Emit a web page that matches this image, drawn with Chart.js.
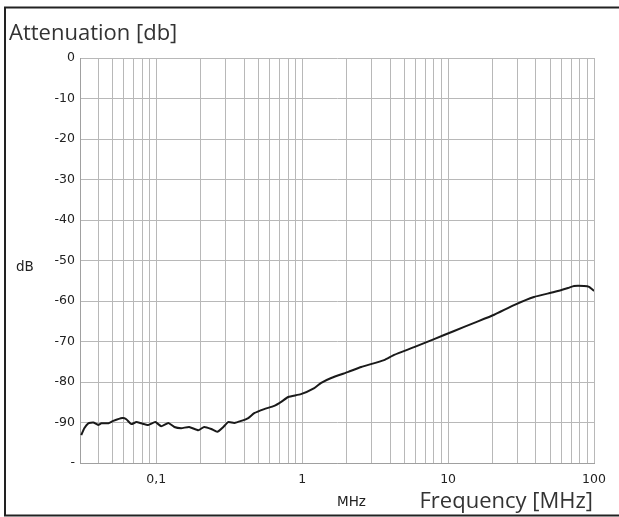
<!DOCTYPE html>
<html>
<head>
<meta charset="utf-8">
<script src="https://cdn.jsdelivr.net/npm/chart.js@4"></script>
<style>
    html, body { margin: 0; padding: 0; background: #fff; }
    #wrap { width: 619px; height: 517px; position: relative; }
</style>
</head>
<body>
<div id="wrap"><canvas id="chart" width="619" height="517"></canvas></div>
<script>
// Attenuation curve
var freqMHz = [0.0306, 0.0321, 0.0342, 0.037, 0.040, 0.042, 0.047, 0.0507, 0.0585, 0.0623,
    0.0674, 0.073, 0.0789, 0.088, 0.0985, 0.108, 0.121, 0.133, 0.148, 0.168,
    0.194, 0.213, 0.238, 0.262, 0.288, 0.311, 0.342, 0.382, 0.427, 0.469,
    0.549, 0.643, 0.718, 0.802, 0.98, 1.21, 1.35, 1.58, 2.07, 2.54,
    3.64, 4.27, 5.85, 8.02, 11.0, 15.1, 20.7, 28.3, 38.8, 53.2,
    66.4, 73.0, 85.4, 92.5, 100];
var attenDb = [-93.1, -91.4, -90.2, -90.0, -90.6, -90.2, -90.2, -89.6, -88.9, -89.2,
    -90.4, -89.9, -90.2, -90.6, -89.9, -90.9, -90.1, -91.1, -91.4, -91.1,
    -91.9, -91.1, -91.6, -92.3, -91.1, -89.9, -90.1, -89.6, -88.9, -87.7,
    -86.7, -85.9, -84.9, -83.7, -83.0, -81.5, -80.2, -79.0, -77.5, -76.3,
    -74.6, -73.3, -71.4, -69.4, -67.4, -65.4, -63.4, -61.0, -59.0, -57.8,
    -56.8, -56.3, -56.3, -56.5, -57.5];

// grid lines: 1..9 in every decade, labels only at decades
var decades = [0.01, 0.1, 1, 10];
var steps = [1, 2, 3, 4, 5, 6, 7, 8, 9, 10];
var xLabels = { '0.1': '0,1', '1': '1', '10': '10', '100': '100' };
var yTicks = [0, -10, -20, -30, -40, -50, -60, -70, -80, -90, -100];

var gridValues = [];
decades.forEach(function (d) {
    steps.forEach(function (s) {
        var v = +(d * s).toPrecision(3);
        if (v >= 0.03 && v <= 100 && gridValues.indexOf(v) < 0) gridValues.push(v);
    });
});

var points = freqMHz.map(function (f, i) { return { x: f, y: attenDb[i] }; });
var tickFont = { family: '"DejaVu Sans", sans-serif', size: 12.5 };

// texts and the frame round the picture
var decorations = {
    id: 'decorations',
    afterDraw: function (chart) {
        var ctx = chart.ctx;
        var area = chart.chartArea;
        ctx.save();
        ctx.strokeStyle = '#222';
        ctx.lineWidth = 2;
        ctx.beginPath();
        ctx.moveTo(619, 7.5);
        ctx.lineTo(5, 7.5);
        ctx.lineTo(5, 515.5);
        ctx.lineTo(619, 515.5);
        ctx.stroke();

        ctx.fillStyle = '#333';
        ctx.textBaseline = 'alphabetic';
        ctx.font = '22px "Open Sans", "Noto Sans", sans-serif';
        ctx.textAlign = 'left';
        ctx.fillText('Attenuation [db]', 9, 40);
        ctx.textAlign = 'right';
        ctx.fillText('Frequency [MHz]', area.right - 1, 508);

        ctx.fillStyle = '#222';
        ctx.font = '13.5px "DejaVu Sans", sans-serif';
        ctx.textAlign = 'left';
        ctx.fillText('dB', 16, 271);
        ctx.fillText('MHz', 337, 506);
        ctx.restore();
    }
};

new Chart(document.getElementById('chart'), {
    type: 'line',
    data: {
        datasets: [{
            data: points,
            borderColor: '#1a1a1a',
            borderWidth: 2,
            pointRadius: 0,
            tension: 0.15,
            fill: false
        }]
    },
    options: {
        responsive: false,
        animation: false,
        layout: { padding: { left: 0, top: 58, right: 25, bottom: 0 } },
        plugins: {
            legend: { display: false },
            tooltip: { enabled: false }
        },
        scales: {
            x: {
                type: 'logarithmic',
                min: 0.03,
                max: 100,
                afterFit: function (s) { s.height = 54; },
                afterBuildTicks: function (s) {
                    s.ticks = gridValues.map(function (v) { return { value: v }; });
                },
                grid: { color: '#b8b8b8', lineWidth: 1, drawTicks: false },
                border: { color: '#a0a0a0' },
                ticks: {
                    autoSkip: false,
                    maxRotation: 0,
                    padding: 9,
                    color: '#222',
                    font: tickFont,
                    callback: function (v) { return xLabels[String(v)] || ''; }
                }
            },
            y: {
                min: -100,
                max: 0,
                afterFit: function (s) { s.width = 80; },
                afterBuildTicks: function (s) {
                    s.ticks = yTicks.map(function (v) { return { value: v }; });
                },
                grid: { color: '#b8b8b8', lineWidth: 1, drawTicks: false },
                border: { color: '#a0a0a0' },
                ticks: {
                    padding: 5,
                    color: '#222',
                    font: tickFont,
                    callback: function (v) { return v === -100 ? '-' : v; }
                }
            }
        }
    },
    plugins: [decorations]
});
</script>
</body>
</html>
